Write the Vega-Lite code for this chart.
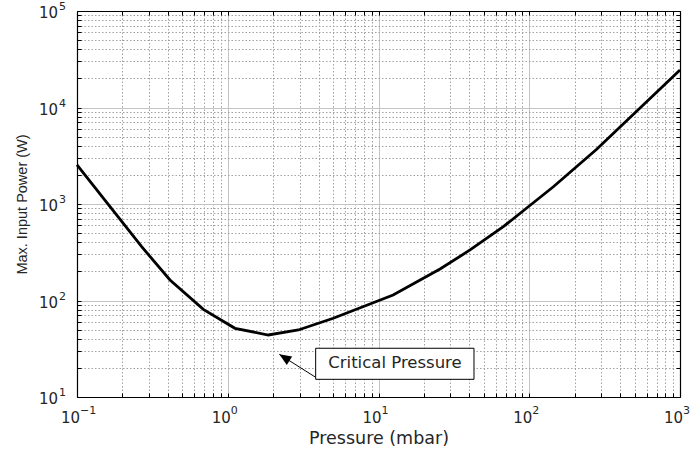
{
  "$schema": "https://vega.github.io/schema/vega-lite/v6.json",
  "width": 603,
  "height": 386,
  "autosize": {"type": "none"},
  "padding": {"left": 77, "top": 11, "right": 12, "bottom": 57},
  "background": "white",
  "config": {"view": {"stroke": null}, "font": "DejaVu Sans"},
  "datasets": {
    "curve": [
      {"pressure": 0.1, "power": 2540},
      {"pressure": 0.2685, "power": 361},
      {"pressure": 0.414, "power": 163},
      {"pressure": 0.689, "power": 81},
      {"pressure": 1.117, "power": 51.5},
      {"pressure": 1.858, "power": 43.9},
      {"pressure": 2.94, "power": 49.5},
      {"pressure": 5.01, "power": 65.4},
      {"pressure": 12.5, "power": 114},
      {"pressure": 25.6, "power": 212},
      {"pressure": 40.5, "power": 334},
      {"pressure": 67.3, "power": 582},
      {"pressure": 100, "power": 953},
      {"pressure": 144.5, "power": 1510},
      {"pressure": 280, "power": 3690},
      {"pressure": 1000, "power": 24470}
    ],
    "xticks": [
      {"v": 0.1, "e": "−1"},
      {"v": 1, "e": "0"},
      {"v": 10, "e": "1"},
      {"v": 100, "e": "2"},
      {"v": 1000, "e": "3"}
    ],
    "yticks": [
      {"v": 10, "e": "1"},
      {"v": 100, "e": "2"},
      {"v": 1000, "e": "3"},
      {"v": 10000, "e": "4"},
      {"v": 100000, "e": "5"}
    ],
    "note": [
      {"label": "Critical Pressure", "x1": 3.83, "x2": 43.0, "y1": 15.25, "y2": 32.0, "tx": 12.86, "ty": 22.5, "ax": 2.198, "ay": 27.7, "bx": 3.83, "by": 16.0}
    ]
  },
  "layer": [
    {
      "data": {"name": "curve"},
      "mark": {"type": "line", "color": "black", "strokeWidth": 2.8},
      "encoding": {
        "x": {
          "field": "pressure", "type": "quantitative",
          "scale": {"type": "log", "domain": [0.1, 1000], "nice": false},
          "axis": {
            "orient": "bottom",
            "values": [0.1,0.2,0.3,0.4,0.5,0.6,0.7,0.8,0.9,1,2,3,4,5,6,7,8,9,10,20,30,40,50,60,70,80,90,100,200,300,400,500,600,700,800,900,1000],
            "labels": false,
            "tickSize": -4, "tickColor": "black", "tickWidth": 1,
            "domainColor": "black", "domainWidth": 1.2,
            "grid": true,
            "gridColor": {"condition": {"test": "indexof([0.1,1,10,100,1000], datum.value) >= 0", "value": "#c4c4c4"}, "value": "#a0a0a0"},
            "gridDash": {"condition": {"test": "indexof([0.1,1,10,100,1000], datum.value) >= 0", "value": []}, "value": [1.5, 2]},
            "gridWidth": 1,
            "title": "Pressure (mbar)", "titleFont": "DejaVu Sans", "titleFontSize": 17.5,
            "titleFontWeight": "normal", "titleColor": "#262626", "titlePadding": 32
          }
        },
        "y": {
          "field": "power", "type": "quantitative",
          "scale": {"type": "log", "domain": [10, 100000], "nice": false},
          "axis": {
            "orient": "left",
            "values": [10,20,30,40,50,60,70,80,90,100,200,300,400,500,600,700,800,900,1000,2000,3000,4000,5000,6000,7000,8000,9000,10000,20000,30000,40000,50000,60000,70000,80000,90000,100000],
            "labels": false,
            "tickSize": -4, "tickColor": "black", "tickWidth": 1,
            "domainColor": "black", "domainWidth": 1.2,
            "grid": true,
            "gridColor": {"condition": {"test": "indexof([10,100,1000,10000,100000], datum.value) >= 0", "value": "#c4c4c4"}, "value": "#a0a0a0"},
            "gridDash": {"condition": {"test": "indexof([10,100,1000,10000,100000], datum.value) >= 0", "value": []}, "value": [1.5, 2]},
            "gridWidth": 1,
            "title": "Max. Input Power (W)", "titleFont": "Liberation Sans", "titleFontSize": 14.5,
            "titleFontWeight": "normal", "titleColor": "#262626", "titlePadding": 47
          }
        }
      }
    },
    {
      "data": {"name": "curve"},
      "mark": {"type": "line", "opacity": 0},
      "encoding": {
        "x": {
          "field": "pressure", "type": "quantitative",
          "axis": {
            "orient": "top",
            "values": [0.1,0.2,0.3,0.4,0.5,0.6,0.7,0.8,0.9,1,2,3,4,5,6,7,8,9,10,20,30,40,50,60,70,80,90,100,200,300,400,500,600,700,800,900,1000],
            "labels": false, "grid": false, "title": null,
            "tickSize": -4, "tickColor": "black", "tickWidth": 1,
            "domainColor": "black", "domainWidth": 1.2
          }
        },
        "y": {
          "field": "power", "type": "quantitative",
          "axis": {
            "orient": "right",
            "values": [10,20,30,40,50,60,70,80,90,100,200,300,400,500,600,700,800,900,1000,2000,3000,4000,5000,6000,7000,8000,9000,10000,20000,30000,40000,50000,60000,70000,80000,90000,100000],
            "labels": false, "grid": false, "title": null,
            "tickSize": -4, "tickColor": "black", "tickWidth": 1,
            "domainColor": "black", "domainWidth": 1.2
          }
        }
      }
    },
    {
      "data": {"name": "xticks"},
      "mark": {"type": "text", "font": "DejaVu Sans", "fontSize": 15, "color": "#262626", "align": "right", "baseline": "middle", "dx": 3, "dy": 21},
      "encoding": {
        "x": {"field": "v", "type": "quantitative", "axis": null},
        "y": {"datum": 10, "type": "quantitative", "axis": null},
        "text": {"value": "10"}
      }
    },
    {
      "data": {"name": "xticks"},
      "mark": {"type": "text", "font": "DejaVu Sans", "fontSize": 11, "color": "#262626", "align": "left", "baseline": "middle", "dx": 3, "dy": 14},
      "encoding": {
        "x": {"field": "v", "type": "quantitative", "axis": null},
        "y": {"datum": 10, "type": "quantitative", "axis": null},
        "text": {"field": "e"}
      }
    },
    {
      "data": {"name": "yticks"},
      "mark": {"type": "text", "font": "DejaVu Sans", "fontSize": 15, "color": "#262626", "align": "right", "baseline": "middle", "dx": -19, "dy": 2},
      "encoding": {
        "x": {"datum": 0.1, "type": "quantitative", "axis": null},
        "y": {"field": "v", "type": "quantitative", "axis": null},
        "text": {"value": "10"}
      }
    },
    {
      "data": {"name": "yticks"},
      "mark": {"type": "text", "font": "DejaVu Sans", "fontSize": 11, "color": "#262626", "align": "left", "baseline": "middle", "dx": -18, "dy": -4},
      "encoding": {
        "x": {"datum": 0.1, "type": "quantitative", "axis": null},
        "y": {"field": "v", "type": "quantitative", "axis": null},
        "text": {"field": "e"}
      }
    },
    {
      "data": {"name": "note"},
      "mark": {"type": "rule", "color": "black", "strokeWidth": 1},
      "encoding": {
        "x": {"field": "bx", "type": "quantitative", "axis": null},
        "y": {"field": "by", "type": "quantitative", "axis": null},
        "x2": {"field": "ax"},
        "y2": {"field": "ay"}
      }
    },
    {
      "data": {"name": "note"},
      "mark": {"type": "point", "shape": "M0,0L-0.42,1L0.42,1Z", "filled": true, "color": "black", "size": 576, "opacity": 1, "angle": 302},
      "encoding": {
        "x": {"field": "ax", "type": "quantitative", "axis": null},
        "y": {"field": "ay", "type": "quantitative", "axis": null}
      }
    },
    {
      "data": {"name": "note"},
      "mark": {"type": "rect", "fill": "white", "stroke": "black", "strokeWidth": 1},
      "encoding": {
        "x": {"field": "x1", "type": "quantitative", "axis": null},
        "x2": {"field": "x2"},
        "y": {"field": "y1", "type": "quantitative", "axis": null},
        "y2": {"field": "y2"}
      }
    },
    {
      "data": {"name": "note"},
      "mark": {"type": "text", "font": "DejaVu Sans", "fontSize": 16.5, "color": "#262626", "align": "center", "baseline": "middle"},
      "encoding": {
        "x": {"field": "tx", "type": "quantitative", "axis": null},
        "y": {"field": "ty", "type": "quantitative", "axis": null},
        "text": {"field": "label"}
      }
    }
  ],
  "resolve": {"axis": {"x": "independent", "y": "independent"}}
}
